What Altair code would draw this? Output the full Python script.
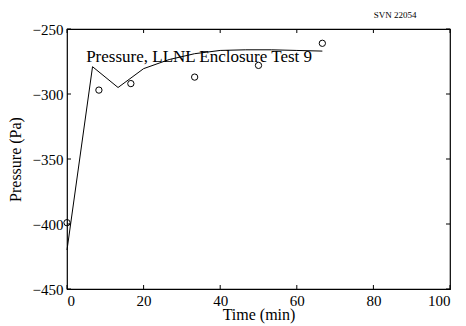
import altair as alt
import pandas as pd

# Model line
line_time = [0, 6.67, 13.33, 20, 26.67, 33.33, 40, 46.67, 53.33, 60, 66.67]
line_pressure = [-420, -279, -295, -280.5, -273.5, -269, -266.5, -266, -266, -266.5, -267]

# Measured points
pt_time = [0, 8.33, 16.67, 33.33, 50, 66.67]
pt_pressure = [-399, -297, -292, -287, -278, -261]

x_ticks = [0, 20, 40, 60, 80, 100]
y_ticks = [-450, -400, -350, -300, -250]

label_text = "Pressure, LLNL Enclosure Test 9"
label_x, label_y = 5, -275
corner_text = "SVN 22054"

W, H = 383, 260
FONT = "Liberation Serif"

xs = alt.Scale(domain=[0, 100], nice=False, zero=False)
ys = alt.Scale(domain=[-450, -250], nice=False, zero=False)

line_df = pd.DataFrame({"t": line_time, "p": line_pressure})
pt_df = pd.DataFrame({"t": pt_time, "p": pt_pressure})
xt_df = pd.DataFrame({"t": x_ticks})
yt_df = pd.DataFrame({"p": y_ticks})

line = alt.Chart(line_df).mark_line(color="black", strokeWidth=1).encode(
    x=alt.X("t:Q", scale=xs,
            axis=alt.Axis(values=x_ticks, title="Time (min)", ticks=False, domain=False,
                          grid=False, labelPadding=4, titlePadding=-2)),
    y=alt.Y("p:Q", scale=ys,
            axis=alt.Axis(values=y_ticks, title="Pressure (Pa)", ticks=False, domain=False,
                          grid=False, labelPadding=4, titlePadding=9)),
)

pts = alt.Chart(pt_df).mark_point(shape="circle", filled=False, color="black",
                                   size=40, strokeWidth=1, opacity=1).encode(
    x=alt.X("t:Q", scale=xs), y=alt.Y("p:Q", scale=ys))

tick_len = 4
bx = alt.Chart(xt_df).mark_rule(color="black", strokeWidth=1).encode(
    x=alt.X("t:Q", scale=xs), y=alt.value(H), y2=alt.value(H - tick_len))
tx = alt.Chart(xt_df).mark_rule(color="black", strokeWidth=1).encode(
    x=alt.X("t:Q", scale=xs), y=alt.value(0), y2=alt.value(tick_len))
ly = alt.Chart(yt_df).mark_rule(color="black", strokeWidth=1).encode(
    y=alt.Y("p:Q", scale=ys), x=alt.value(0), x2=alt.value(tick_len))
ry = alt.Chart(yt_df).mark_rule(color="black", strokeWidth=1).encode(
    y=alt.Y("p:Q", scale=ys), x=alt.value(W), x2=alt.value(W - tick_len))

lbl_df = pd.DataFrame({"t": [label_x], "p": [label_y], "s": [label_text]})
lbl = alt.Chart(lbl_df).mark_text(font=FONT, fontSize=17, align="left",
                                   baseline="alphabetic", color="black").encode(
    x=alt.X("t:Q", scale=xs), y=alt.Y("p:Q", scale=ys), text="s:N")

corner_df = pd.DataFrame({"s": [corner_text]})
corner = alt.Chart(corner_df).mark_text(font=FONT, fontSize=9, align="center",
                                         baseline="middle", color="black").encode(
    x=alt.value(328), y=alt.value(-14), text="s:N")

chart = alt.layer(line, pts, bx, tx, ly, ry, lbl, corner).properties(
    width=W, height=H,
    background="white",
    autosize=alt.AutoSizeParams(type="none"),
    padding={"left": 59, "top": 21, "right": 8, "bottom": 38},
).configure_view(stroke="black", strokeWidth=1.2).configure_axis(
    labelFont=FONT, labelFontSize=15, labelColor="black",
    titleFont=FONT, titleFontSize=16, titleFontWeight="normal", titleColor="black",
)

chart.save("out.html", embed_options={"renderer": "svg", "actions": False})
